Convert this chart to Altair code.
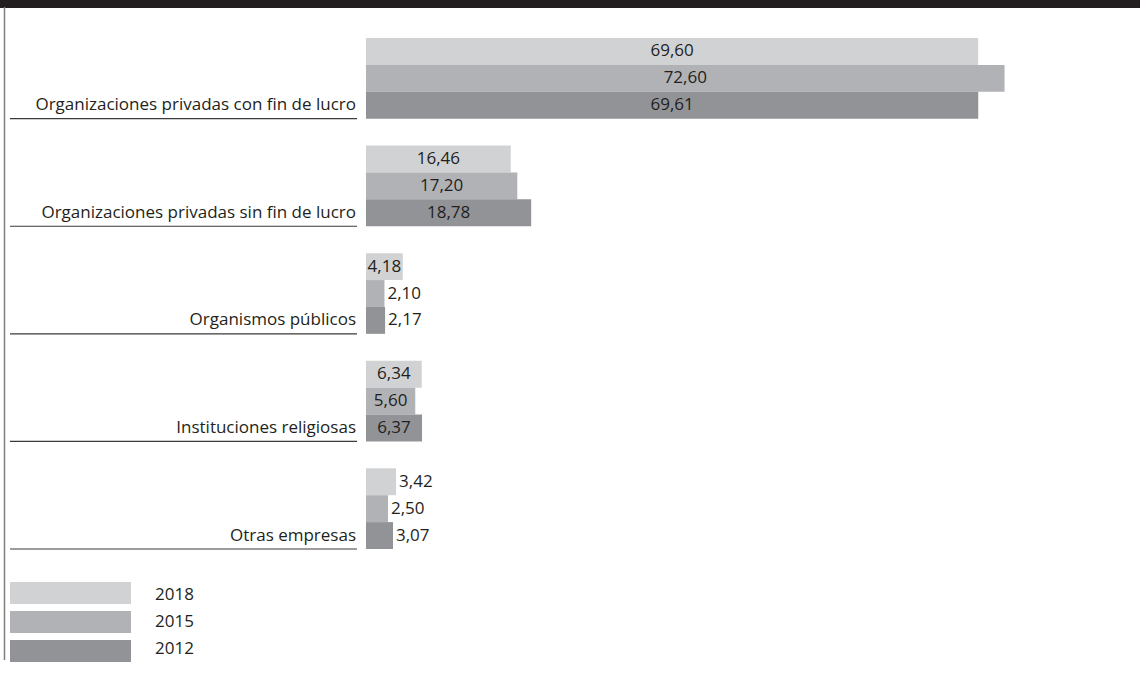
import altair as alt
import pandas as pd

categories = [
    "Organizaciones privadas con fin de lucro",
    "Organizaciones privadas sin fin de lucro",
    "Organismos públicos",
    "Instituciones religiosas",
    "Otras empresas",
]
years = ["2018", "2015", "2012"]
values_2018 = [69.60, 16.46, 4.18, 6.34, 3.42]
values_2015 = [72.60, 17.20, 2.10, 5.60, 2.50]
values_2012 = [69.61, 18.78, 2.17, 6.37, 3.07]
colors = ["#d1d2d4", "#b1b2b5", "#929396"]

rows = []
for yr, vals in zip(years, [values_2018, values_2015, values_2012]):
    for c, v in zip(categories, vals):
        rows.append({"cat": c, "year": yr, "v": v, "k": f"{c}|{yr}"})
df = pd.DataFrame(rows)

y_domain = []
for i, c in enumerate(categories):
    y_domain += [f"{c}|{yr}" for yr in years]
    if i < len(categories) - 1:
        y_domain.append(f"{c}|gap")

FONT = "Open Sans"
FS = 17
TXT = "#231f20"
W = 774
H = 511
STEP = H / len(y_domain)

def y_band():
    return alt.Scale(domain=y_domain, paddingInner=0, paddingOuter=0)

x_scale = alt.Scale(domain=[0, 88], nice=False, zero=True)
color_scale = alt.Scale(domain=years, range=colors)

base = alt.Chart(df).transform_calculate(
    lbl="replace(format(datum.v, '.2f'), '.', ',')",
    mid="datum.v / 2",
)

bars = base.mark_bar(opacity=1).encode(
    x=alt.X("v:Q", scale=x_scale, axis=None),
    y=alt.Y("k:N", scale=y_band(), axis=None),
    color=alt.Color("year:N", scale=color_scale, legend=None),
)

lbl_center = base.transform_filter("datum.v >= 4").mark_text(
    font=FONT, fontSize=FS, color=TXT, align="center", baseline="middle"
).encode(
    x=alt.X("mid:Q", scale=x_scale, axis=None),
    y=alt.Y("k:N", scale=y_band(), axis=None),
    text="lbl:N",
)

lbl_out = base.transform_filter("datum.v < 4").mark_text(
    font=FONT, fontSize=FS, color=TXT, align="left", baseline="middle", dx=3
).encode(
    x=alt.X("v:Q", scale=x_scale, axis=None),
    y=alt.Y("k:N", scale=y_band(), axis=None),
    text="lbl:N",
)

cat_df = pd.DataFrame({"cat": categories, "k": [f"{c}|{years[-1]}" for c in categories]})
cat_labels = alt.Chart(cat_df).mark_text(
    font=FONT, fontSize=FS, color=TXT, align="right", baseline="middle"
).encode(
    x=alt.value(-10),
    y=alt.Y("k:N", scale=y_band(), axis=None),
    text="cat:N",
)

underlines = alt.Chart(cat_df).transform_calculate(s="0", e="1").mark_rule(
    color="#3a3a3a", strokeWidth=1.2, yOffset=STEP / 2
).encode(
    x=alt.X("s:Q", scale=alt.Scale(domain=[0, 1], range=[-356, -9]), axis=None),
    x2="e:Q",
    y=alt.Y("k:N", scale=y_band(), axis=None),
)

one = pd.DataFrame({"s": [0], "e": [1]})
top_band = alt.Chart(one).mark_rect(color="#231f20").encode(
    x=alt.X("s:Q", scale=alt.Scale(domain=[0, 1], range=[-366, W]), axis=None),
    x2="e:Q",
    y=alt.Y("s:Q", scale=alt.Scale(domain=[0, 1], range=[-38, -30]), axis=None),
    y2="e:Q",
)
left_line = alt.Chart(one).mark_rule(color="#7f7f7f", strokeWidth=1.5).encode(
    x=alt.X("s:Q", scale=alt.Scale(domain=[0, 1], range=[-361.5, 0]), axis=None),
    y=alt.Y("s:Q", scale=alt.Scale(domain=[0, 1], range=[-31, 622]), axis=None),
    y2="e:Q",
)

# hand-built legend: wide swatches with labels
leg_df = pd.DataFrame({"year": years})
leg_y = alt.Scale(domain=years, range=[544, 624], paddingInner=0.24, paddingOuter=0)
leg_rects = alt.Chart(leg_df).transform_calculate(s="0", e="1").mark_rect().encode(
    x=alt.X("s:Q", scale=alt.Scale(domain=[0, 1], range=[-356, -235]), axis=None),
    x2="e:Q",
    y=alt.Y("year:N", scale=leg_y, axis=None),
    color=alt.Color("year:N", scale=color_scale, legend=None),
)
leg_text = alt.Chart(leg_df).mark_text(
    font=FONT, fontSize=FS, color=TXT, align="left", baseline="middle"
).encode(
    x=alt.value(-211),
    y=alt.Y("year:N", scale=leg_y, axis=None),
    text="year:N",
)

chart = alt.layer(
    top_band, left_line, underlines, bars, lbl_center, lbl_out, cat_labels,
    leg_rects, leg_text,
).resolve_scale(x="independent", y="independent").properties(
    width=W,
    height=H,
    autosize=alt.AutoSizeParams(type="none"),
    padding={"left": 366, "top": 38, "right": 0, "bottom": 124},
    background="white",
).configure_view(stroke=None)

chart.save("out.html", embed_options={"renderer": "svg", "actions": False})
